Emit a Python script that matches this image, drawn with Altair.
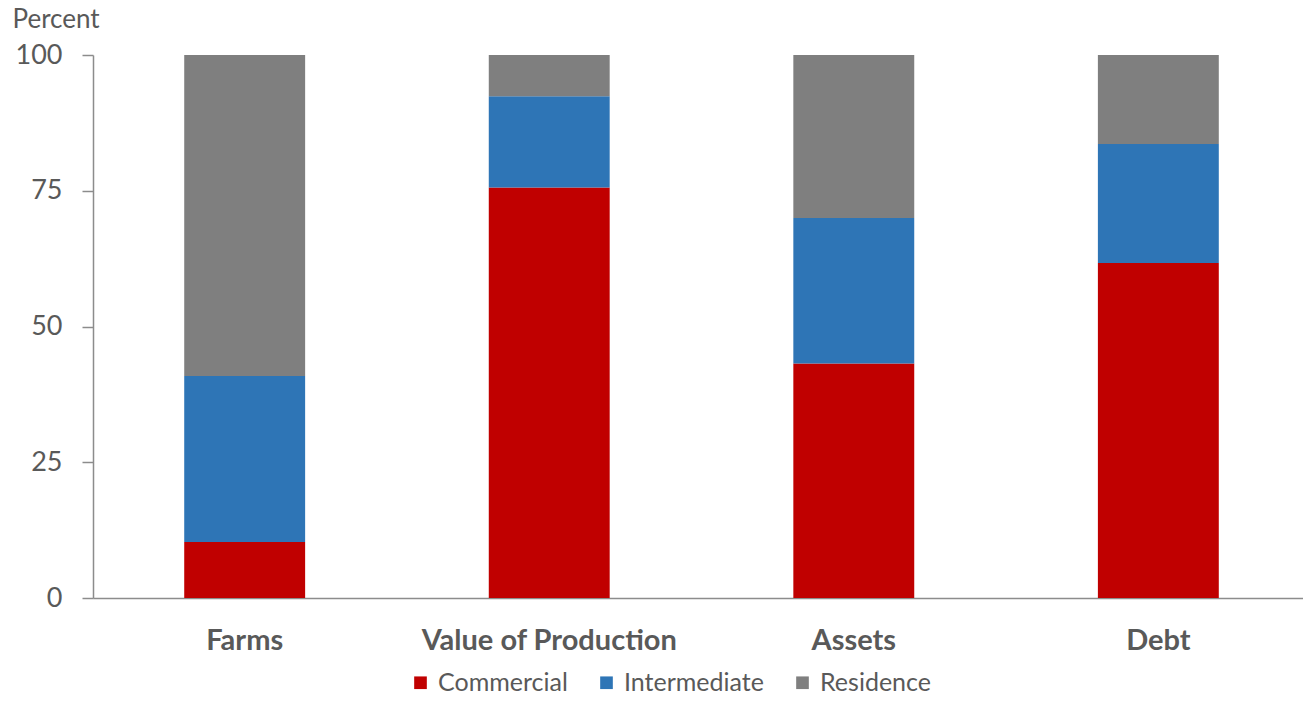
import altair as alt
import pandas as pd

categories = ["Farms", "Value of Production", "Assets", "Debt"]
series = ["Commercial", "Intermediate", "Residence"]
commercial = [10.3, 75.6, 43.2, 61.7]
intermediate = [30.6, 16.8, 26.8, 21.9]
residence = [59.1, 7.6, 30.0, 16.4]
colors = ["#C00000", "#2E75B6", "#7F7F7F"]

rows = []
for i, c in enumerate(categories):
    for k, (s, vals) in enumerate(zip(series, [commercial, intermediate, residence])):
        rows.append({"category": c, "series": s, "value": vals[i], "order": k})
df = pd.DataFrame(rows)

FONT = "Lato"
TXT = "#595959"
AX = "#8C8C8C"

chart = alt.Chart(df).mark_bar().encode(
    x=alt.X("category:N", sort=categories,
            scale=alt.Scale(paddingInner=0.603, paddingOuter=0.288, align=0.52),
            axis=alt.Axis(title=None, labelAngle=0, ticks=False, grid=False,
                          domainColor=AX, domainWidth=1.5,
                          labelFont=FONT, labelFontSize=29, labelFontWeight="bold",
                          labelColor=TXT, labelPadding=28, labelLimit=600)),
    y=alt.Y("value:Q", stack="zero",
            scale=alt.Scale(domain=[0, 100], nice=False),
            axis=alt.Axis(values=[0, 25, 50, 75, 100], grid=False, title="Percent",
                          titleAngle=0, titleAlign="left", titleBaseline="alphabetic",
                          titleX=-81, titleY=-28, titleFont=FONT, titleFontSize=26,
                          titleFontWeight="normal", titleColor=TXT,
                          labelFont=FONT, labelFontSize=27, labelColor=TXT,
                          labelPadding=20, tickSize=11, tickColor=AX, tickWidth=1.5,
                          domainColor=AX, domainWidth=1.5)),
    color=alt.Color("series:N", sort=series,
                    scale=alt.Scale(domain=series, range=colors),
                    legend=alt.Legend(title=None, orient="none", direction="horizontal",
                                      legendX=315, legendY=615, symbolType="square",
                                      symbolSize=160, symbolStrokeWidth=0,
                                      labelFont=FONT, labelFontSize=25, labelColor=TXT,
                                      columnPadding=26, labelOffset=5, labelLimit=300)),
    order=alt.Order("order:Q"),
).properties(
    width=1210, height=543,
    background="white",
    autosize=alt.AutoSizeParams(type="none"),
    padding={"left": 93, "top": 55, "right": 0, "bottom": 119},
).configure_view(stroke="white", strokeWidth=0, strokeOpacity=0)

chart.save("out.html", embed_options={"renderer": "svg", "actions": False})
